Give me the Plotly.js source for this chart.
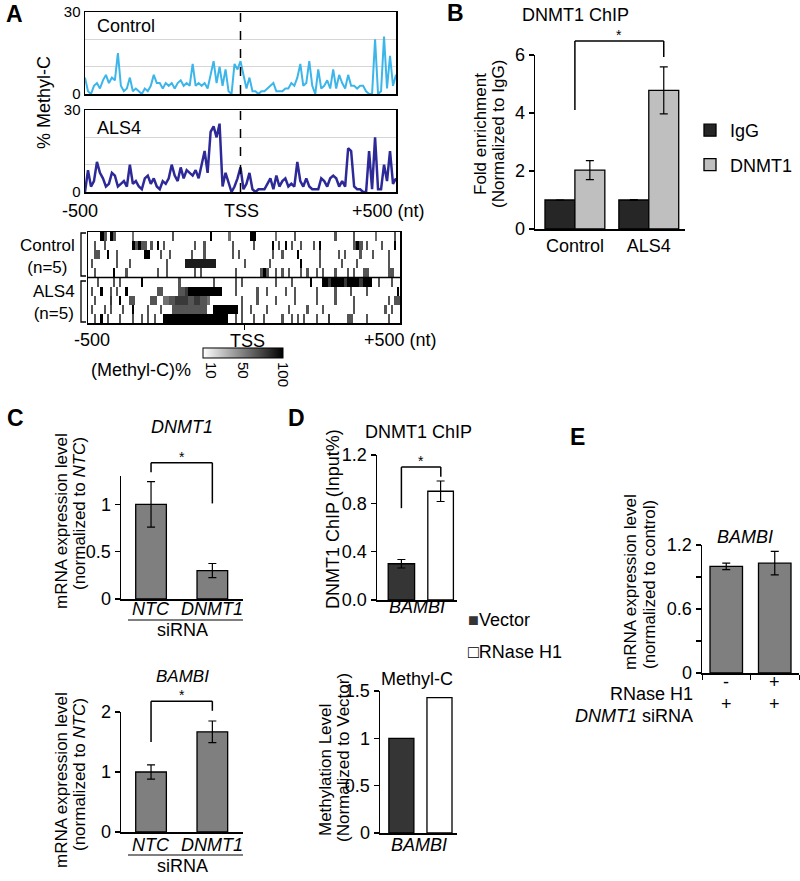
<!DOCTYPE html>
<html><head><meta charset="utf-8">
<script src="https://cdn.plot.ly/plotly-3.0.1.min.js"></script>
<style>body{margin:0;background:#fff}#chart{width:800px;height:881px}</style>
</head><body><div id="chart"></div>
<script>
// ---------- Panel A: % Methyl-C profiles (-500 .. +500 nt) ----------
const positionSpan = [-500, 500];
const controlMethyl = [6,1,0,3,4,2,5,7,4,6,5,15,3,1,2,6,1,2,1,0,2,1,3,7,4,4,2,4,3,4,2,4,5,3,4,3,11,3,4,3,4,2,7,12,4,10,3,9,1,0,11,9,12,7,2,6,1,1,0,1,1,2,3,4,1,1,1,2,2,4,3,6,11,3,4,12,3,0,9,2,3,5,2,9,2,7,4,2,7,3,3,2,3,3,1,0,0,20,0,1,21,2,14,3,7];
const als4Methyl = [0,8,2,4,11,7,5,2,3,7,6,2,3,4,2,10,3,4,2,1,5,6,3,5,2,1,4,3,5,10,6,4,9,5,8,7,6,8,5,10,15,7,22,24,20,25,2,7,3,0,2,5,9,1,3,7,1,0,1,1,1,3,5,1,6,2,4,5,2,3,2,11,4,2,5,2,1,1,1,5,4,2,5,6,5,2,4,2,16,15,2,1,1,0,0,15,1,20,1,1,10,4,15,3,5];

// Per-read methylation map ('.' = unmethylated, digit = level in ninths)
const heatControlRows = [
  "....96.96. ....5..... .......6.. .........9 .....5.... ..99...... 5.....6... .........6 .....6.... ..5.....6.",
  "..6..6.... ....96966. 6.9.6..... ....6..6.. ......6... ...6.....9 .6.9.6..6. ..6.9..... .....696.6 ....6...9.",
  "..66..9..6 ........99 ...6..6... ...6...6.. ......6.6. .........6 ..6....9.. ....6..... 6.6....6.. .6....6...",
  ".6.......6 ...6...... .....6.... .888888888 8......... 6.......6. ........9. ....6..... .6....6... ......6...",
  "..6.....9. ..6....... ..6..6.... ....6.6... .......6.. .....696.. 6.6.6...6. 6..6.6...6 ...6.6..66 ......66.."
];
const heatALS4Rows = [
  "...6....6. 6......9.. .........6 .......... 6......6.6 .......... 6....6.... .9...99799 9979999799 9..6...6..",
  ".6..9..6.6 ..9....... ..66.....6 6799999999 999....6.. ....6..6.. ...6..6... ...6.....6 ....6....6 .........9",
  "..6....7.. 9..66..... 66..556677 776677665. .........6 ....6..... 6.....6... ...6.....6 .....6.... ......6.66",
  ".6...6.6.. .6..9....6 ...6...666 66666666.. 99999999.6 ..6....6.. ....6..... 6....6.... .....6.... .....6.6..",
  "..6.9.6... 6...6..6.6 .6..999999 9999999999 99999..6.6 ...6..6... ..6..6.6.6 ...6...7.. ...66....6 ......6..."
];
const colorTicks = [10, 50, 100];

// ---------- Panel B: DNMT1 ChIP ----------
const bGroups = ['Control', 'ALS4'];
const bIgG = [1.0, 1.0];
const bIgGErr = [0, 0.01];
const bDNMT1 = [2.03, 4.78];
const bDNMT1Err = [0.33, 0.81];

// ---------- Panel C: siRNA ----------
const cSiRNA = ['NTC', 'DNMT1'];
const cDNMT1Expr = [1.0, 0.30];
const cDNMT1Err = [0.24, 0.075];
const cBAMBIExpr = [1.0, 1.67];
const cBAMBIErr = [0.12, 0.18];

// ---------- Panel D: RNase H1 ----------
const dGene = ['BAMBI'];
const dChipVector = [0.30];
const dChipVectorErr = [0.035];
const dChipRNase = [0.90];
const dChipRNaseErr = [0.085];
const dMethVector = [1.0];
const dMethRNase = [1.43];

// ---------- Panel E ----------
const eConditions = ['RNaseH1-', 'RNaseH1+'];
const eRNaseH1 = ['-', '+'];
const eDNMT1siRNA = ['+', '+'];
const eExpr = [1.0, 1.03];
const eErr = [0.03, 0.11];

// ================= drawing =================
const W = 800, H = 881;
const FONT = 'Liberation Sans, Arial, sans-serif';
const px = x => x / W, py = y => 1 - y / H;
const X = (a, b) => [a / W, b / W];
const Y = (t, b) => [1 - b / H, 1 - t / H];

// pixel geometry of each plot area: x [left,right], y [top,bottom]
const G = {
  aC: {x: [85, 396], y: [12, 94]},
  aA: {x: [85, 396], y: [110, 192]},
  hm: {x: [88, 400], y: [232, 323]},
  b:  {x: [535, 685], y: [55, 229], xr: [-0.54, 1.49], yr: [0, 6]},
  c1: {x: [121, 243], y: [476, 599], xr: [-0.49, 1.5], yr: [0, 1.3]},
  c2: {x: [121, 243], y: [712, 832], xr: [-0.49, 1.5], yr: [0, 2]},
  d1: {x: [377, 457], y: [455, 600], xr: [-1, 1], yr: [0, 1.2]},
  d2: {x: [380, 457], y: [691, 833], xr: [-1, 1], yr: [0, 1.5]},
  e:  {x: [702, 799], y: [545, 673], xr: [-0.5, 1.5], yr: [0, 1.2]}
};
const gx = (g, v) => g.x[0] + (v - g.xr[0]) / (g.xr[1] - g.xr[0]) * (g.x[1] - g.x[0]);
const gy = (g, v) => g.y[1] - (v - g.yr[0]) / (g.yr[1] - g.yr[0]) * (g.y[1] - g.y[0]);

const parseRow = s => s.replace(/ /g, '').split('').map(c => c === '.' ? 0 : Number(c) * 100 / 9);
const heatZ = heatControlRows.concat(heatALS4Rows).map(parseRow);
const nCols = heatZ[0].length;
// isolated sites drawn as thin ticks; runs of adjacent methylated sites drawn as solid blocks
const tickZ = heatZ.map(r => r.map(v => v > 0 ? v : null));
const runZ = heatZ.map(r => r.map((v, i) => (v > 0 && ((r[i - 1] || 0) > 0 || (r[i + 1] || 0) > 0)) ? v : null));

const errStyle = (arr) => ({type: 'data', array: arr, visible: true, color: '#000', thickness: 1.2, width: 4});
const barLine = {color: '#000', width: 1.3};
const grayScale = [[0, '#ffffff'], [1, '#000000']];
const hmBase = {type: 'heatmap', xaxis: 'x3', yaxis: 'y3',
  x0: positionSpan[0] + (positionSpan[1] - positionSpan[0]) / nCols / 2,
  dx: (positionSpan[1] - positionSpan[0]) / nCols, y0: 0, dy: 1,
  zmin: 0, zmax: 100, colorscale: grayScale, hoverinfo: 'skip'};

const traces = [
  {type: 'scatter', mode: 'lines', xaxis: 'x', yaxis: 'y', y: controlMethyl,
   x0: positionSpan[0], dx: (positionSpan[1] - positionSpan[0]) / (controlMethyl.length - 1),
   line: {color: '#3cb6ea', width: 2}, showlegend: false, hoverinfo: 'skip'},
  {type: 'scatter', mode: 'lines', xaxis: 'x2', yaxis: 'y2', y: als4Methyl,
   x0: positionSpan[0], dx: (positionSpan[1] - positionSpan[0]) / (als4Methyl.length - 1),
   line: {color: '#2d2a98', width: 2.5}, showlegend: false, hoverinfo: 'skip'},
  Object.assign({}, hmBase, {z: tickZ, xgap: 1,
   colorbar: {orientation: 'h', x: px(243), xanchor: 'center', y: py(366), yanchor: 'middle',
     len: 80, lenmode: 'pixels', thickness: 10, thicknessmode: 'pixels',
     tickvals: colorTicks, ticktext: colorTicks.map(String), tickangle: 90, ticks: '',
     tickfont: {size: 15, family: FONT, color: '#000'}, outlinewidth: 1, outlinecolor: '#000',
     xpad: 0, ypad: 0}}),
  Object.assign({}, hmBase, {z: runZ, showscale: false}),
  // Panel B
  {type: 'bar', name: 'IgG', x: bGroups, y: bIgG, xaxis: 'x4', yaxis: 'y4', width: 0.405, offset: -0.405,
   marker: {color: '#262626', line: barLine}, error_y: errStyle(bIgGErr), legend: 'legend', legendgroup: 'g1', hoverinfo: 'skip'},
  {type: 'bar', name: 'DNMT1', x: bGroups, y: bDNMT1, xaxis: 'x4', yaxis: 'y4', width: 0.405, offset: 0,
   marker: {color: '#bfbfbf', line: barLine}, error_y: errStyle(bDNMT1Err), legend: 'legend', legendgroup: 'g2', hoverinfo: 'skip'},
  // Panel C
  {type: 'bar', x: cSiRNA, y: cDNMT1Expr, xaxis: 'x5', yaxis: 'y5', width: 0.5,
   marker: {color: '#7f7f7f', line: barLine}, error_y: errStyle(cDNMT1Err), showlegend: false, hoverinfo: 'skip'},
  {type: 'bar', x: cSiRNA, y: cBAMBIExpr, xaxis: 'x6', yaxis: 'y6', width: 0.5,
   marker: {color: '#7f7f7f', line: barLine}, error_y: errStyle(cBAMBIErr), showlegend: false, hoverinfo: 'skip'},
  // Panel D
  {type: 'bar', name: 'Vector', x: dGene, y: dChipVector, xaxis: 'x7', yaxis: 'y7', width: 0.66, offset: -0.72,
   marker: {color: '#353535', line: barLine}, error_y: errStyle(dChipVectorErr), showlegend: false, hoverinfo: 'skip'},
  {type: 'bar', name: 'RNase H1', x: dGene, y: dChipRNase, xaxis: 'x7', yaxis: 'y7', width: 0.64, offset: 0.27,
   marker: {color: '#ffffff', line: barLine}, error_y: errStyle(dChipRNaseErr), showlegend: false, hoverinfo: 'skip'},
  {type: 'bar', x: dGene, y: dMethVector, xaxis: 'x8', yaxis: 'y8', width: 0.65, offset: -0.77,
   marker: {color: '#353535', line: barLine}, showlegend: false, hoverinfo: 'skip'},
  {type: 'bar', x: dGene, y: dMethRNase, xaxis: 'x8', yaxis: 'y8', width: 0.65, offset: 0.22,
   marker: {color: '#ffffff', line: barLine}, showlegend: false, hoverinfo: 'skip'},
  // Panel E
  {type: 'bar', x: eConditions, y: eExpr, xaxis: 'x9', yaxis: 'y9', width: 0.67,
   marker: {color: '#7f7f7f', line: barLine}, error_y: errStyle(eErr), showlegend: false, hoverinfo: 'skip'}
];

const tf = (s) => ({size: s, family: FONT, color: '#000'});
const TICK = 18;
const frame = {showline: true, mirror: true, linecolor: '#000', linewidth: 1.5, zeroline: false, showgrid: false, ticks: ''};
const lAxis = {showline: true, linecolor: '#000', linewidth: 1.5, zeroline: false, showgrid: false, ticks: 'outside', ticklen: 5, tickwidth: 1.2, tickcolor: '#000', tickfont: tf(TICK)};
const cAxis = {showline: true, linecolor: '#000', linewidth: 1.5, zeroline: false, showgrid: false, ticks: '', type: 'category', showticklabels: false};

const layout = {
  width: W, height: H, margin: {l: 0, r: 0, t: 0, b: 0}, paper_bgcolor: '#fff', plot_bgcolor: 'rgba(0,0,0,0)',
  font: {family: FONT, color: '#000', size: 17}, barmode: 'overlay', showlegend: true,
  xaxis:  Object.assign({}, frame, {domain: X(...G.aC.x), range: positionSpan, showticklabels: false, anchor: 'y'}),
  yaxis:  Object.assign({}, frame, {domain: Y(...G.aC.y), range: [0, 30], tickvals: [0, 10, 20, 30], ticktext: ['0', '', '', '30'], showgrid: true, gridcolor: '#d6d6d6', tickfont: tf(15), anchor: 'x'}),
  xaxis2: Object.assign({}, frame, {domain: X(...G.aA.x), range: positionSpan, showticklabels: false, anchor: 'y2'}),
  yaxis2: Object.assign({}, frame, {domain: Y(...G.aA.y), range: [0, 30], tickvals: [0, 10, 20, 30], ticktext: ['0', '', '', '30'], showgrid: true, gridcolor: '#d6d6d6', tickfont: tf(15), anchor: 'x2'}),
  xaxis3: Object.assign({}, frame, {domain: X(...G.hm.x), range: positionSpan, tickvals: [0], ticks: 'outside', ticklen: 5, tickcolor: '#000', showticklabels: false, anchor: 'y3'}),
  yaxis3: Object.assign({}, frame, {domain: Y(...G.hm.y), range: [heatZ.length - 0.5, -0.5], showticklabels: false, anchor: 'x3'}),
  xaxis4: Object.assign({}, cAxis, {domain: X(...G.b.x), range: G.b.xr, showticklabels: true, tickfont: tf(18), anchor: 'y4'}),
  yaxis4: Object.assign({}, lAxis, {domain: Y(...G.b.y), range: G.b.yr, tickvals: [0, 2, 4, 6], anchor: 'x4'}),
  xaxis5: Object.assign({}, cAxis, {domain: X(...G.c1.x), range: G.c1.xr, anchor: 'y5'}),
  yaxis5: Object.assign({}, lAxis, {domain: Y(...G.c1.y), range: G.c1.yr, tickvals: [0, 0.5, 1], anchor: 'x5'}),
  xaxis6: Object.assign({}, cAxis, {domain: X(...G.c2.x), range: G.c2.xr, anchor: 'y6'}),
  yaxis6: Object.assign({}, lAxis, {domain: Y(...G.c2.y), range: G.c2.yr, tickvals: [0, 1, 2], anchor: 'x6'}),
  xaxis7: Object.assign({}, cAxis, {domain: X(...G.d1.x), range: G.d1.xr, anchor: 'y7'}),
  yaxis7: Object.assign({}, lAxis, {domain: Y(...G.d1.y), range: G.d1.yr, tickvals: [0, 0.4, 0.8, 1.2], tickformat: '.1f', anchor: 'x7'}),
  xaxis8: Object.assign({}, cAxis, {domain: X(...G.d2.x), range: G.d2.xr, anchor: 'y8'}),
  yaxis8: Object.assign({}, lAxis, {domain: Y(...G.d2.y), range: G.d2.yr, tickvals: [0, 0.5, 1, 1.5], anchor: 'x8'}),
  xaxis9: Object.assign({}, cAxis, {domain: X(...G.e.x), range: G.e.xr, ticks: 'outside', tickson: 'boundaries', ticklen: 5, tickcolor: '#000', anchor: 'y9'}),
  yaxis9: Object.assign({}, lAxis, {domain: Y(...G.e.y), range: G.e.yr, tickvals: [0, 0.3, 0.6, 0.9, 1.2], ticktext: ['0', '', '0.6', '', '1.2'], anchor: 'x9'}),
  legend:  {x: px(690), xanchor: 'left', y: py(112), yanchor: 'top', font: tf(18), bgcolor: 'rgba(0,0,0,0)', traceorder: 'grouped', tracegroupgap: 8, itemwidth: 30},
  shapes: [], annotations: []
};

const A = layout.annotations, S = layout.shapes;
function txt(text, x, y, o) {
  A.push(Object.assign({text: text, x: px(x), y: py(y), xref: 'paper', yref: 'paper', showarrow: false,
    xanchor: 'center', yanchor: 'middle', font: tf(18)}, o || {}));
}
function seg(x0, y0, x1, y1, w) {
  S.push({type: 'line', xref: 'paper', yref: 'paper', x0: px(x0), y0: py(y0), x1: px(x1), y1: py(y1), line: {color: '#000', width: w || 1.5}});
}
function bracket(g, xl, xr, yl, yt, yr) {
  const L = gx(g, xl), R = gx(g, xr), T = gy(g, yt);
  seg(L, gy(g, yl), L, T); seg(L, T, R, T); seg(R, T, R, gy(g, yr));
  A.push({text: '*', x: px((L + R) / 2), y: py(T + 3), xref: 'paper', yref: 'paper', showarrow: false,
    xanchor: 'center', yanchor: 'bottom', font: tf(14), borderpad: 0});
}
function catLabels(axis, cats, y, italic) {
  cats.forEach(c => A.push({text: italic ? '<i>' + c + '</i>' : c, x: c, xref: axis, y: py(y), yref: 'paper',
    showarrow: false, xanchor: 'center', yanchor: 'middle', font: tf(18)}));
}

// dashed TSS lines
['x', 'x2'].forEach((xa, i) => S.push({type: 'line', xref: xa, yref: (i ? 'y2' : 'y') + ' domain', x0: 0, x1: 0, y0: 0, y1: 1, line: {color: '#000', width: 1.5, dash: 'dash'}}));
// separator in heatmap
S.push({type: 'line', xref: 'x3 domain', yref: 'y3', x0: 0, x1: 1, y0: heatControlRows.length - 0.5, y1: heatControlRows.length - 0.5, line: {color: '#000', width: 1.5}});

// Panel A text
txt('<b>A</b>', 14, 14, {font: tf(23)});
txt('Control', 95, 26, {xanchor: 'left'});
txt('ALS4', 95, 128, {xanchor: 'left'});
txt('% Methyl-C', 44, 103, {textangle: -90});
txt('-500', 80, 211); txt('TSS', 241, 211); txt('+500 (nt)', 388, 211);
txt('Control<br>(n=5)', 77, 256, {xanchor: 'right', font: tf(17)});
txt('ALS4<br>(n=5)', 77, 303, {xanchor: 'right', font: tf(17)});
S.push({type: 'path', xref: 'paper', yref: 'paper', path: `M${px(86)},${py(233)}L${px(81)},${py(233)}L${px(81)},${py(276)}L${px(86)},${py(276)}`, line: {color: '#000', width: 1.3}});
S.push({type: 'path', xref: 'paper', yref: 'paper', path: `M${px(86)},${py(281)}L${px(81)},${py(281)}L${px(81)},${py(322)}L${px(86)},${py(322)}`, line: {color: '#000', width: 1.3}});
txt('-500', 92, 340); txt('TSS', 247, 341); txt('+500 (nt)', 400, 340);
txt('(Methyl-C)%', 193, 370, {xanchor: 'right'});

// Panel B text
txt('<b>B</b>', 455, 13, {font: tf(23)});
txt('DNMT1 ChIP', 575, 15);
txt('Fold enrichment', 481, 134, {textangle: -90, font: tf(17)});
txt('(Normalized to IgG)', 499, 134, {textangle: -90, font: tf(17)});
bracket(G.b, 0, 1.2025, 4.1, 6.48, 5.93);

// Panel C text
txt('<b>C</b>', 15, 418, {font: tf(23)});
txt('<i>DNMT1</i>', 182, 427);
txt('mRNA expression level', 61, 521, {textangle: -90, font: tf(17)});
txt('(normalized to <i>NTC</i>)', 79, 514, {textangle: -90, font: tf(17)});
bracket(G.c1, 0, 1, 1.34, 1.44, 1.01);
catLabels('x5', cSiRNA, 609, true);
seg(128, 620, 243, 620, 1.2); txt('siRNA', 182, 630);
txt('<i>BAMBI</i>', 182, 676, {font: tf(17)});
txt('mRNA expression level', 61, 780, {textangle: -90, font: tf(17)});
txt('(normalized to <i>NTC</i>)', 79, 775, {textangle: -90, font: tf(17)});
bracket(G.c2, 0, 1, 1.5, 2.18, 2.02);
catLabels('x6', cSiRNA, 845, true);
seg(128, 855, 243, 855, 1.2); txt('siRNA', 182, 866);

// Panel D text
txt('<b>D</b>', 296, 418, {font: tf(23)});
txt('DNMT1 ChIP', 418, 432);
txt('DNMT1 ChIP (Input%)', 333, 519, {textangle: -90});
bracket(G.d1, -0.39, 0.595, 0.76, 1.10, 1.02);
catLabels('x7', dGene, 607, true);
txt('<span style="color:#353535">■</span>Vector', 466, 620, {xanchor: 'left'});
txt('□RNase H1', 466, 652, {xanchor: 'left'});
txt('Methyl-C', 417, 679);
txt('Methylation Level', 325, 770, {textangle: -90, font: tf(17)});
txt('(Normalized to Vector)', 343, 758, {textangle: -90, font: tf(17)});
catLabels('x8', dGene, 845, true);

// Panel E text
txt('<b>E</b>', 577, 437, {font: tf(23)});
txt('<i>BAMBI</i>', 745, 537);
txt('mRNA expression level', 630, 582, {textangle: -90, font: tf(17)});
txt('(normalized to control)', 649, 585, {textangle: -90, font: tf(17)});
txt('RNase H1', 695, 694, {xanchor: 'right'});
txt('<i>DNMT1</i> siRNA', 695, 716, {xanchor: 'right'});
eConditions.forEach((c, i) => {
  A.push({text: eRNaseH1[i], x: c, xref: 'x9', y: py(694), yref: 'paper', showarrow: false, font: tf(18)});
  A.push({text: eDNMT1siRNA[i], x: c, xref: 'x9', y: py(716), yref: 'paper', showarrow: false, font: tf(18)});
});

Plotly.newPlot('chart', traces, layout, {staticPlot: true});
</script></body></html>
